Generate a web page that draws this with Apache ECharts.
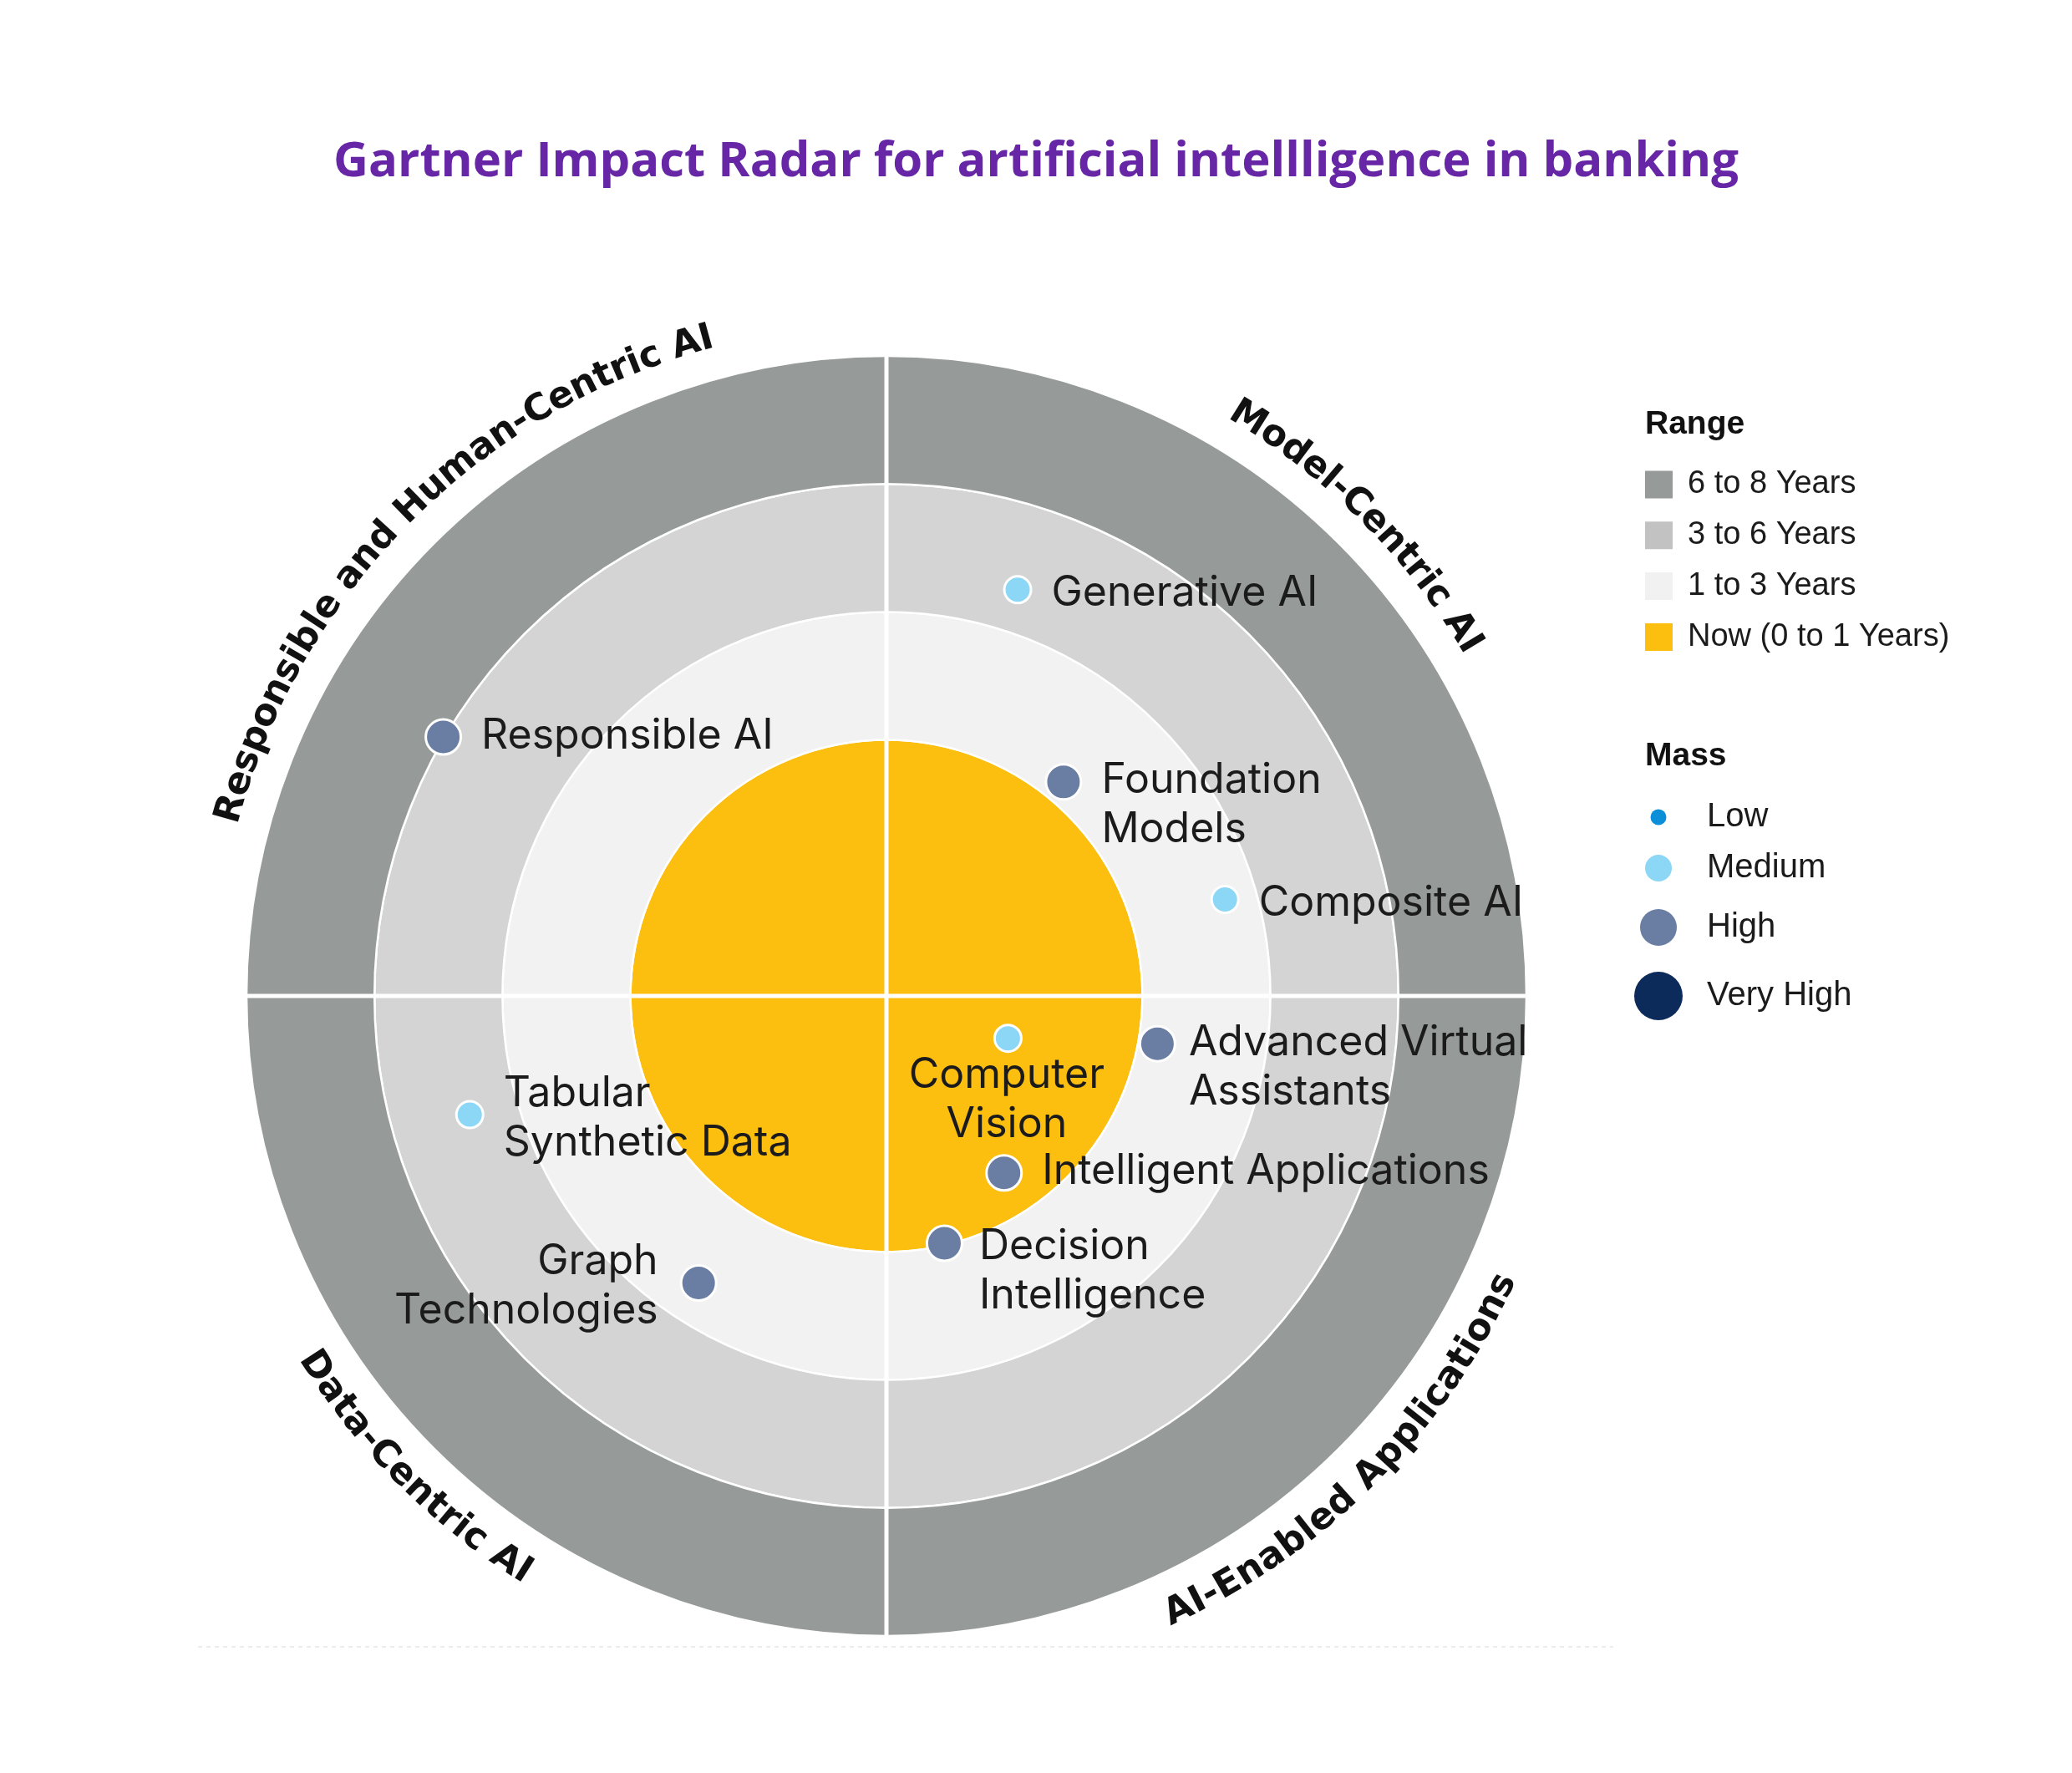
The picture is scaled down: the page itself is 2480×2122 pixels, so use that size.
<!DOCTYPE html>
<html>
<head>
<meta charset="utf-8">
<script src="https://cdn.jsdelivr.net/npm/echarts@6/dist/echarts.min.js"></script>
<style>
html,body{margin:0;padding:0;background:#ffffff;}
#chart{width:2480px;height:2122px;}
</style>
</head>
<body>
<div id="chart"></div>
<script>
// ---------------- data ----------------
const chartTitle = 'Gartner Impact Radar for artificial intellligence in banking';
const rangeNames = ['Now (0 to 1 Years)', '1 to 3 Years', '3 to 6 Years', '6 to 8 Years'];
const rangeOuter = [40, 60, 80, 100];            // outer edge of each ring on the radial scale 0-100
const massLevels = ['Low', 'Medium', 'High', 'Very High'];
const sectorNames = ['Model-Centric AI', 'Responsible and Human-Centric AI', 'Data-Centric AI', 'AI-Enabled Applications'];
const sectorMidAngle = [45, 135, 225, 315];
const techNames = ['Generative AI', 'Responsible AI', 'Foundation Models', 'Composite AI', 'Computer Vision',
  'Advanced Virtual Assistants', 'Tabular Synthetic Data', 'Intelligent Applications', 'Decision Intelligence', 'Graph Technologies'];
const techLabels = ['Generative AI', 'Responsible AI', 'Foundation\nModels', 'Composite AI', 'Computer\nVision',
  'Advanced Virtual\nAssistants', 'Tabular\nSynthetic Data', 'Intelligent Applications', 'Decision\nIntelligence', 'Graph\nTechnologies'];
const techRadius = [66.7, 80.2, 43.4, 55.0, 20.1, 43.0, 67.7, 33.2, 39.7, 53.6];
const techAngle = [72.1, 149.7, 50.4, 15.9, 340.8, 350.0, 195.9, 303.6, 283.2, 236.8];
const techMass = ['Medium', 'High', 'High', 'Medium', 'Medium', 'High', 'Medium', 'High', 'High', 'High'];

// ---------------- styles / layout ----------------
const CX = 1061, CY = 1192, R = 766;
const ringColors = ['#fcbf10', '#f2f2f2', '#d4d4d4', '#969b9a'];
const legendRangeColors = {'6 to 8 Years': '#969b9a', '3 to 6 Years': '#c2c2c2', '1 to 3 Years': '#f1f1f1', 'Now (0 to 1 Years)': '#fcbf10'};
const massColor = {'Low': '#0b8fd8', 'Medium': '#8dd7f6', 'High': '#6a7ea3', 'Very High': '#0c2a5a'};
const massSymbol = {'Low': 16, 'Medium': 32, 'High': 42, 'Very High': 56};
const massLegendSize = {'Low': 19, 'Medium': 32, 'High': 44, 'Very High': 58};
const massLegendY = {'Low': 977, 'Medium': 1038, 'High': 1107, 'Very High': 1187};
const LH = 59;
// side: where the label sits; first: first line level with the dot; dy: extra vertical shift
const labelLayout = {
  'Generative AI': {side: 'right', dy: 6},
  'Responsible AI': {side: 'right', dy: 0},
  'Foundation Models': {side: 'right', first: true, dy: 0},
  'Composite AI': {side: 'right', dy: 6},
  'Computer Vision': {side: 'bottom', dist: 0},
  'Advanced Virtual Assistants': {side: 'right', first: true, dy: 0, dist: 18},
  'Tabular Synthetic Data': {side: 'right', dy: 6},
  'Intelligent Applications': {side: 'right', dy: 0},
  'Decision Intelligence': {side: 'right', first: true, dy: 5, dist: 22},
  'Graph Technologies': {side: 'left', dy: 5}
};
const labelFont = {fontFamily: 'Inter', fontSize: 50, color: '#1b1b1b', lineHeight: LH};

function labelFor(name, text, size) {
  const lay = labelLayout[name] || {side: 'right'};
  const dist = lay.dist !== undefined ? lay.dist : 26;
  const lines = text.split('\n').length;
  const dy = lay.dy || 0;
  let position, align, verticalAlign = 'top';
  if (lay.side === 'bottom') {
    position = [size / 2, size + dist]; align = 'center';
  } else {
    const topY = size / 2 - (lay.first ? LH / 2 : lines * LH / 2) + dy;
    if (lay.side === 'left') { position = [-dist, topY]; align = 'right'; }
    else { position = [size + dist, topY]; align = 'left'; }
  }
  return Object.assign({show: true, formatter: text, position: position, align: align, verticalAlign: verticalAlign}, labelFont);
}

const chart = echarts.init(document.getElementById('chart'), null, {renderer: 'canvas'});

const series = [];
rangeNames.forEach((name, i) => {
  const inner = i === 0 ? 0 : rangeOuter[i - 1];
  series.push({
    type: 'pie', name: name, center: [CX, CY],
    radius: [inner / 100 * R, rangeOuter[i] / 100 * R],
    startAngle: 90, silent: true, z: 1, animation: false,
    label: {show: false}, labelLine: {show: false},
    emphasis: {disabled: true},
    itemStyle: {color: ringColors[i], borderColor: '#ffffff', borderWidth: 2.5},
    data: [{name: name, value: 1}]
  });
});

massLevels.forEach(m => {
  const data = [];
  techNames.forEach((n, i) => {
    if (techMass[i] !== m) return;
    data.push({
      name: n,
      value: [techRadius[i], techAngle[i]],
      label: labelFor(n, techLabels[i], massSymbol[m])
    });
  });
  series.push({
    type: 'scatter', name: m, coordinateSystem: 'polar', z: 20, silent: true, animation: false,
    symbol: 'circle', symbolSize: massSymbol[m],
    itemStyle: {color: massColor[m], borderColor: '#ffffff', borderWidth: 3, opacity: 1},
    emphasis: {disabled: true},
    data: data
  });
});

// legends
const legends = [{
  orient: 'vertical', left: 1964, top: 556, itemWidth: 33, itemHeight: 33, itemGap: 22.8,
  icon: 'rect', selectedMode: false,
  itemStyle: {borderWidth: 0},
  textStyle: {fontFamily: 'Liberation Sans', fontSize: 38, color: '#1b1b1b', padding: [0, 0, 0, 13]},
  data: rangeNames.slice().reverse().map(n => ({name: n, itemStyle: {color: legendRangeColors[n], borderWidth: 0}}))
}];
massLevels.forEach(m => {
  const d = massLegendSize[m];
  const h = Math.max(d, 48);
  legends.push({
    orient: 'vertical', left: 1980 - d / 2, top: massLegendY[m] - h / 2, itemWidth: d, itemHeight: d,
    icon: 'circle', selectedMode: false,
    itemStyle: {borderWidth: 0},
    textStyle: {fontFamily: 'Liberation Sans', fontSize: 40, color: '#1b1b1b', padding: [0, 0, 0, 2038 - (1980 + d / 2 + 5)]},
    data: [{name: m, itemStyle: {color: massColor[m], borderWidth: 0}}]
  });
});

// curved sector labels
const measureCtx = document.createElement('canvas').getContext('2d');
const sectorFontSize = 44, sectorFontFamily = 'DejaVu Sans', RT = 815;
measureCtx.font = 'bold ' + sectorFontSize + 'px "' + sectorFontFamily + '"';
const graphics = [];
sectorNames.forEach((text, k) => {
  const mid = sectorMidAngle[k];
  const top = mid < 180;
  const chars = Array.from(text);
  const widths = chars.map(c => measureCtx.measureText(c).width);
  const total = widths.reduce((a, b) => a + b, 0);
  const span = total / RT;
  const midRad = mid * Math.PI / 180;
  let acc = 0;
  chars.forEach((c, i) => {
    const m = acc + widths[i] / 2;
    acc += widths[i];
    const a = top ? (midRad + span / 2 - m / RT) : (midRad - span / 2 + m / RT);
    graphics.push({
      type: 'text', silent: true, z: 50,
      x: CX + RT * Math.cos(a), y: CY - RT * Math.sin(a),
      rotation: top ? a - Math.PI / 2 : a + Math.PI / 2,
      style: {
        text: c, fill: '#111111',
        fontSize: sectorFontSize, fontWeight: 'bold', fontFamily: sectorFontFamily,
        align: 'center', verticalAlign: 'middle', textAlign: 'center', textVerticalAlign: 'middle'
      }
    });
  });
});
graphics.push({
  type: 'line', silent: true, z: 0,
  shape: {x1: 237, y1: 1971, x2: 1931, y2: 1971},
  style: {stroke: '#ececec', lineWidth: 2, lineDash: [5, 5]}
});

const option = {
  backgroundColor: '#ffffff',
  animation: false,
  title: [
    {text: chartTitle, left: 'center', top: 160,
      textStyle: {color: '#6626a6', fontSize: 58, fontWeight: 'bold', fontFamily: 'Open Sans'}},
    {text: 'Range', left: 1964, top: 484,
      textStyle: {color: '#111111', fontSize: 39, fontWeight: 'bold', fontFamily: 'Liberation Sans'}},
    {text: 'Mass', left: 1964, top: 881,
      textStyle: {color: '#111111', fontSize: 39, fontWeight: 'bold', fontFamily: 'Liberation Sans'}}
  ],
  legend: legends,
  polar: {center: [CX, CY], radius: R},
  angleAxis: {
    type: 'value', min: 0, max: 360, interval: 90, startAngle: 0, clockwise: false, z: 10,
    axisLine: {show: false}, axisTick: {show: false}, axisLabel: {show: false},
    splitLine: {show: true, lineStyle: {color: '#ffffff', width: 5}}
  },
  radiusAxis: {
    type: 'value', min: 0, max: 100, z: 10,
    axisLine: {show: false}, axisTick: {show: false}, axisLabel: {show: false},
    splitLine: {show: false}
  },
  graphic: graphics,
  series: series
};
chart.setOption(option);
</script>
</body>
</html>
